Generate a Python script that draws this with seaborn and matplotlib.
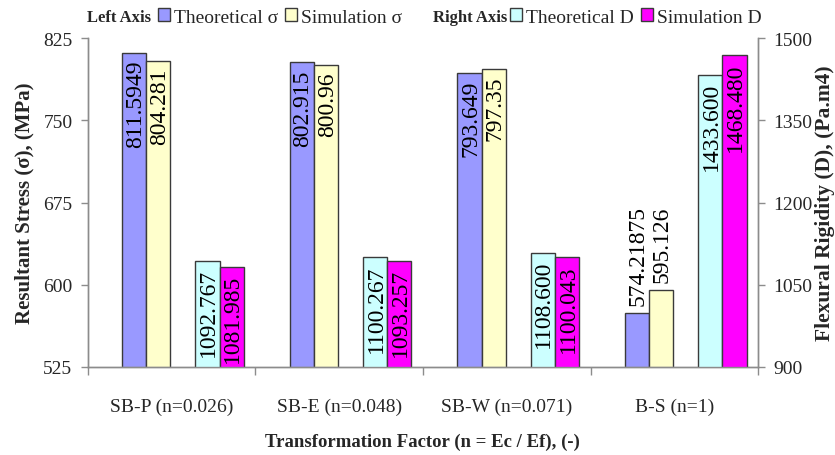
import numpy as np
import pandas as pd
import matplotlib
matplotlib.use("Agg")
import matplotlib.pyplot as plt
from matplotlib.patches import Patch
import seaborn as sns

# ---- data -------------------------------------------------------------
categories = ["SB-P (n=0.026)", "SB-E (n=0.048)", "SB-W (n=0.071)", "B-S (n=1)"]
stress_theoretical = [811.5949, 802.915, 793.649, 574.21875]
stress_simulation = [804.281, 800.96, 797.35, 595.126]
rigidity_theoretical = [1092.767, 1100.267, 1108.600, 1433.600]
rigidity_simulation = [1081.985, 1093.257, 1100.043, 1468.480]
stress_ticks = [525, 600, 675, 750, 825]
rigidity_ticks = [900, 1050, 1200, 1350, 1500]

stress_series = ["Theoretical σ", "Simulation σ"]
rigidity_series = ["Theoretical D", "Simulation D"]
colors = {
    "Theoretical σ": "#9999FF",
    "Simulation σ": "#FFFFCC",
    "Theoretical D": "#CCFFFF",
    "Simulation D": "#FF00FF",
}

# ---- style ------------------------------------------------------------
sns.set_theme(style="white")
plt.rcParams["font.family"] = ["Liberation Serif", "DejaVu Serif"]
plt.rcParams["font.size"] = 14
GRAY = "#8c8c8c"
EDGE = "#3a3a3a"

fig = plt.figure(figsize=(8.35, 4.56), dpi=100)
ax = fig.add_axes([0.105, 0.193, 0.803, 0.721])
ax2 = ax.twinx()

idx = np.arange(len(categories))
pair_width = 0.288
stress_shift = -0.150
rigidity_shift = 0.287

stress_df = pd.DataFrame({
    "pos": np.concatenate([idx, idx]) + stress_shift,
    "value": stress_theoretical + stress_simulation,
    "series": [stress_series[0]] * 4 + [stress_series[1]] * 4,
})
rigidity_df = pd.DataFrame({
    "pos": np.concatenate([idx, idx]) + rigidity_shift,
    "value": rigidity_theoretical + rigidity_simulation,
    "series": [rigidity_series[0]] * 4 + [rigidity_series[1]] * 4,
})

sns.barplot(data=stress_df, x="pos", y="value", hue="series", hue_order=stress_series,
            native_scale=True, width=pair_width, dodge=True, palette=colors,
            saturation=1, edgecolor=EDGE, linewidth=1, errorbar=None,
            legend=False, ax=ax)
sns.barplot(data=rigidity_df, x="pos", y="value", hue="series", hue_order=rigidity_series,
            native_scale=True, width=pair_width, dodge=True, palette=colors,
            saturation=1, edgecolor=EDGE, linewidth=1, errorbar=None,
            legend=False, ax=ax2)

ax.set_ylim(stress_ticks[0], stress_ticks[-1])
ax2.set_ylim(rigidity_ticks[0], rigidity_ticks[-1])
ax.set_yticks(stress_ticks)
ax2.set_yticks(rigidity_ticks)
ax.set_xlim(-0.5, len(categories) - 0.5)
ax2.set_xlim(-0.5, len(categories) - 0.5)


def label_bars(axis, series_values, fmt, floor, room):
    for container, values in zip(axis.containers, series_values):
        for bar, v in zip(container, values):
            x = bar.get_x() + bar.get_width() / 2
            inside = (v - floor) > room
            axis.annotate(fmt(v), (x, v), xytext=(0.8, -5 if inside else 6),
                          textcoords="offset points", rotation=90,
                          ha="center", va="top" if inside else "bottom",
                          fontsize=17, color="black")


label_bars(ax, [stress_theoretical, stress_simulation], lambda v: str(v),
           stress_ticks[0], 100)
label_bars(ax2, [rigidity_theoretical, rigidity_simulation], lambda v: f"{v:.3f}",
           rigidity_ticks[0], 170)

# ---- axes cosmetics ---------------------------------------------------
for a in (ax, ax2):
    a.spines["top"].set_visible(False)
    for side in ("left", "right", "bottom"):
        a.spines[side].set_color(GRAY)
        a.spines[side].set_linewidth(1)
    a.grid(False)

ax.set_xticks(np.arange(-0.5, len(categories)))
ax.set_xticks(idx, minor=True)
ax.set_xticklabels([])
ax.set_xticklabels(categories, minor=True)
ax.tick_params(axis="x", which="major", direction="out", length=6, width=1,
               color=GRAY, bottom=True)
ax.tick_params(axis="x", which="minor", length=0, pad=22, labelsize=14)
ax.tick_params(axis="y", direction="out", length=5, width=1, color=GRAY,
               left=True, pad=6, labelsize=14)
ax2.tick_params(axis="y", direction="out", length=5, width=1, color=GRAY,
                right=True, pad=6, labelsize=14)

ax.set_xlabel("Transformation Factor (n = Ec / Ef), (-)", fontsize=13.5,
              fontweight="bold", labelpad=13)
ax.set_ylabel("Resultant Stress (σ), (MPa)", fontsize=15, fontweight="bold",
              labelpad=6)
ax2.set_ylabel("Flexural Rigidity (D), (Pa.m4)", fontsize=15.5, fontweight="bold",
               labelpad=2)

# ---- legends ----------------------------------------------------------
legend_y = 1 - 18 / 456
fig.text(87 / 835, legend_y, "Left Axis", fontsize=12, fontweight="bold",
         ha="left", va="center")
fig.text(433 / 835, legend_y, "Right Axis", fontsize=12, fontweight="bold",
         ha="left", va="center")


def series_legend(names, x0):
    handles = [Patch(facecolor=colors[n], edgecolor=EDGE, linewidth=1, label=n)
               for n in names]
    return fig.legend(handles=handles, loc="center left",
                      bbox_to_anchor=(x0, legend_y), ncol=2, frameon=False,
                      fontsize=14, handlelength=0.6, handleheight=0.6,
                      handletextpad=0.2, columnspacing=0.4, borderpad=0,
                      borderaxespad=0)


series_legend(stress_series, 158 / 835)
series_legend(rigidity_series, 510 / 835)

fig.savefig("out.png", dpi=100)
